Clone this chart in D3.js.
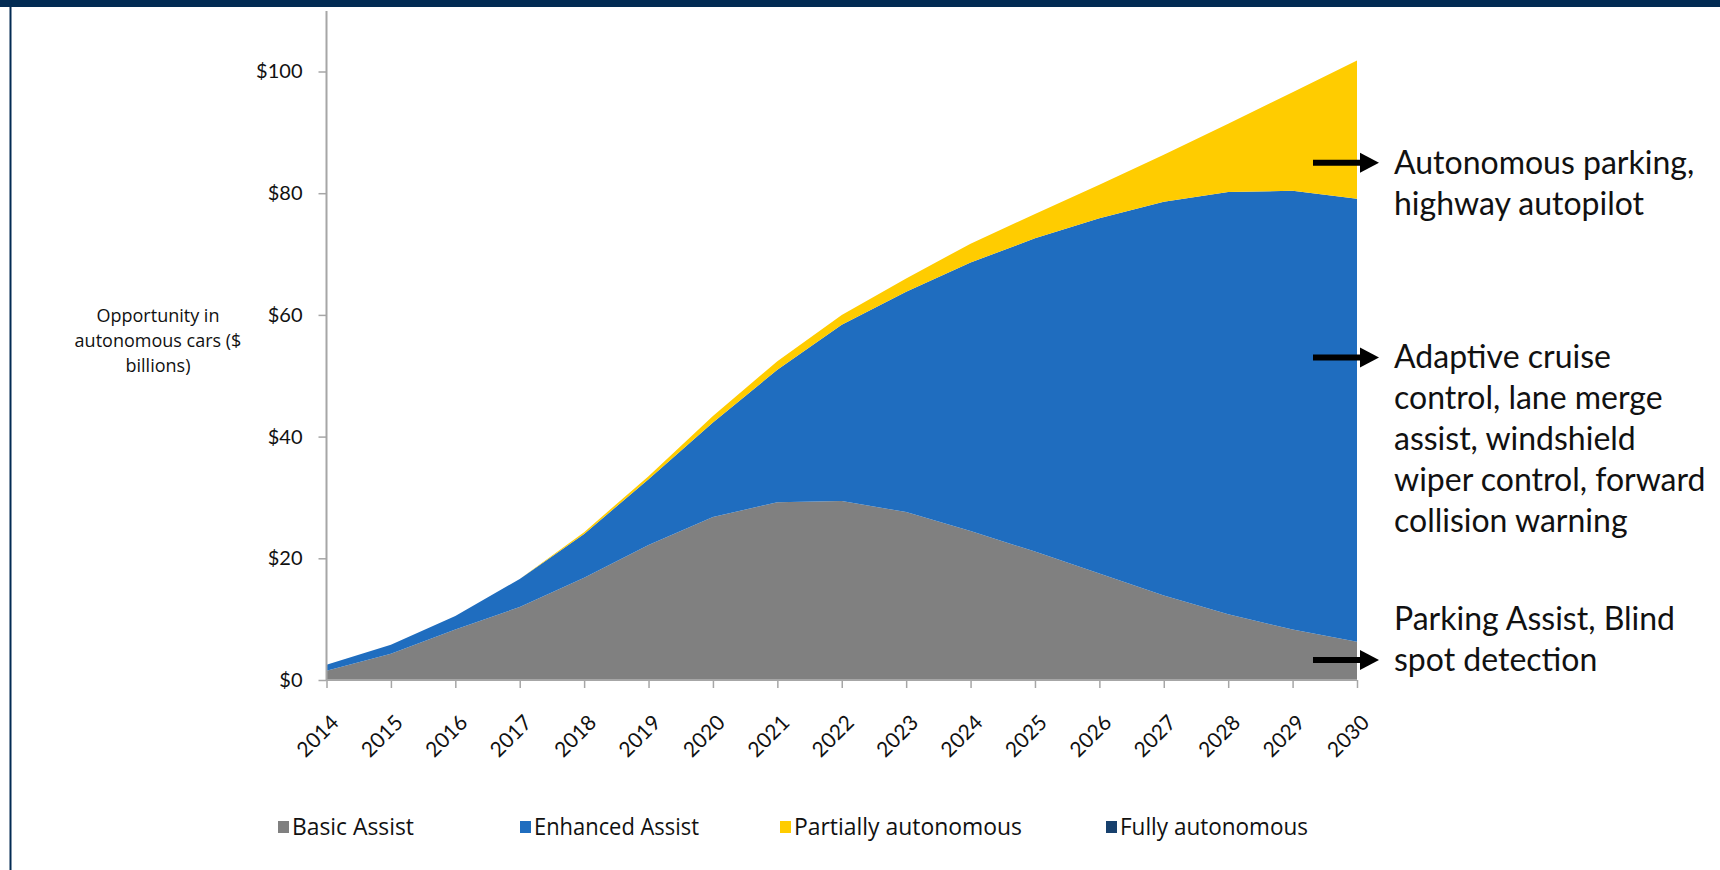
<!DOCTYPE html>
<html>
<head>
<meta charset="utf-8">
<script src="https://cdn.jsdelivr.net/npm/d3@7"></script>
<style>
  html, body { margin: 0; padding: 0; background: #fff; }
  svg { display: block; }
</style>
</head>
<body>
<div id="chart"></div>
<script>
// years on the x axis
const years = [2014,2015,2016,2017,2018,2019,2020,2021,2022,2023,2024,2025,2026,2027,2028,2029,2030]

// $ billions (stacked series)
const basicAssist    = [1.5,4.3,8.3,12.0,16.8,22.2,26.8,29.2,29.4,27.6,24.5,21.1,17.5,13.9,10.8,8.3,6.3]
const enhancedAssist = [1.0,1.5,2.2,4.6,7.2,10.8,15.5,21.8,29.0,36.2,44.1,51.5,58.4,64.7,69.4,72.1,72.8]
const partiallyAuto  = [0,0,0,0,0.3,0.5,1.1,1.4,1.6,2.2,3.1,4.0,5.5,7.7,11.2,16.2,22.7]
const fullyAuto      = [0,0,0,0,0,0,0,0,0,0,0,0,0,0,0,0,0]

const seriesNames = ['Basic Assist','Enhanced Assist','Partially autonomous','Fully autonomous']
const yTicks = [0,20,40,60,80,100]

// callouts on the right: value the arrow points at + text lines
const calloutValues = [85, 53, 3.3]
const calloutLines = [
  ['Autonomous parking,','highway autopilot'],
  ['Adaptive cruise','control, lane merge','assist, windshield','wiper control, forward','collision warning'],
  ['Parking Assist, Blind','spot detection']
]
const calloutFirstLine = [0, 0, -1]   // which line sits at the arrow level

const colors = ['#808080','#1f6dbf','#ffcc00','#17406d']

const W = 1720, H = 870
const x0 = 326.5, x1 = 1357, yBottom = 680, yTop = 71.5

const svg = d3.select('#chart').append('svg')
  .attr('width', W).attr('height', H)

// frame: navy band on top and thin line down the left
svg.append('rect').attr('x',0).attr('y',0).attr('width',W).attr('height',7).attr('fill','#022b53')
svg.append('rect').attr('x',9.5).attr('y',0).attr('width',2).attr('height',H).attr('fill','#022b53')

const x = d3.scaleLinear().domain([2014,2030]).range([x0,x1])
const y = d3.scaleLinear().domain([0,100]).range([yBottom,yTop])

// table for the stack
const table = years.map((yr,i)=>({
  year: yr,
  'Basic Assist': basicAssist[i],
  'Enhanced Assist': enhancedAssist[i],
  'Partially autonomous': partiallyAuto[i],
  'Fully autonomous': fullyAuto[i]
}))
const stacked = d3.stack().keys(seriesNames)(table)

const area = d3.area()
  .x(d=>x(d.data.year))
  .y0(d=>y(d[0]))
  .y1(d=>y(d[1]))

svg.append('g').selectAll('path')
  .data(stacked)
  .enter().append('path')
    .attr('fill',(d,i)=>colors[i])
    .attr('d', area)

// axes
const axisColor = '#a6a6a6'
const tickFont = 'Lato, "Open Sans", sans-serif'

const yAxis = svg.append('g').attr('transform','translate('+x0+',0)')
  .call(d3.axisLeft(y).tickValues(yTicks).tickSize(8).tickPadding(16).tickFormat(d=>'$'+d))
yAxis.select('.domain').attr('d','M0,11V'+yBottom).attr('stroke',axisColor).attr('stroke-width',2)
yAxis.selectAll('.tick line').attr('stroke',axisColor).attr('stroke-width',1.5)
yAxis.selectAll('.tick text').attr('font-size',20).attr('font-family',tickFont).attr('fill','#111')

const xAxis = svg.append('g').attr('transform','translate(0,'+yBottom+')')
  .call(d3.axisBottom(x).tickValues(years).tickSize(8).tickFormat(d3.format('d')))
xAxis.select('.domain').attr('d','M'+x0+',0H'+x1).attr('stroke',axisColor).attr('stroke-width',2)
xAxis.selectAll('.tick line').attr('stroke',axisColor).attr('stroke-width',1.5)
xAxis.selectAll('.tick text')
  .attr('font-size',21).attr('font-family',tickFont).attr('fill','#111')
  .attr('text-anchor','end')
  .attr('dy',null).attr('y',0)
  .attr('transform','translate(13,44) rotate(-45)')

// y axis title
const yTitle = ['Opportunity in','autonomous cars ($','billions)']
svg.append('g').selectAll('text').data(yTitle).enter().append('text')
  .attr('x',158).attr('y',(d,i)=>322+i*25)
  .attr('text-anchor','middle')
  .attr('font-size',18).attr('font-family','"Open Sans", sans-serif').attr('fill','#111')
  .text(d=>d)

// legend
const legendX = [278, 520, 780, 1106]
const legendW = [122, 165, 228, 188]
const lg = svg.append('g').selectAll('g').data(seriesNames).enter().append('g')
  .attr('transform',(d,i)=>'translate('+legendX[i]+',827)')
lg.append('rect').attr('x',0).attr('y',-6).attr('width',11).attr('height',12).attr('fill',(d,i)=>colors[i])
lg.append('text').attr('x',14).attr('y',8)
  .attr('font-size',23).attr('font-family','"Open Sans", sans-serif').attr('fill','#111')
  .attr('textLength',(d,i)=>legendW[i]).attr('lengthAdjust','spacingAndGlyphs')
  .text(d=>d)

// callout arrows + text
const arrowStart = x1 - 44, arrowEnd = x1 + 22
const co = svg.append('g').selectAll('g').data(calloutLines).enter().append('g')
co.append('line')
  .attr('x1',arrowStart).attr('x2',arrowEnd-14)
  .attr('y1',(d,i)=>y(calloutValues[i])).attr('y2',(d,i)=>y(calloutValues[i]))
  .attr('stroke','#000').attr('stroke-width',6)
co.append('path')
  .attr('d',(d,i)=>{ const yy=y(calloutValues[i]); return 'M'+(arrowEnd-19)+','+(yy-10)+'L'+arrowEnd+','+yy+'L'+(arrowEnd-19)+','+(yy+10)+'Z' })
  .attr('fill','#000')
co.each(function(lines,i){
  const yy = y(calloutValues[i])
  d3.select(this).selectAll('text').data(lines).enter().append('text')
    .attr('x',1394)
    .attr('y',(t,j)=>yy + (j+calloutFirstLine[i])*41 + 11)
    .attr('font-size',32).attr('font-family','Lato, "Open Sans", sans-serif').attr('fill','#111')
    .text(t=>t)
})
</script>
</body>
</html>
